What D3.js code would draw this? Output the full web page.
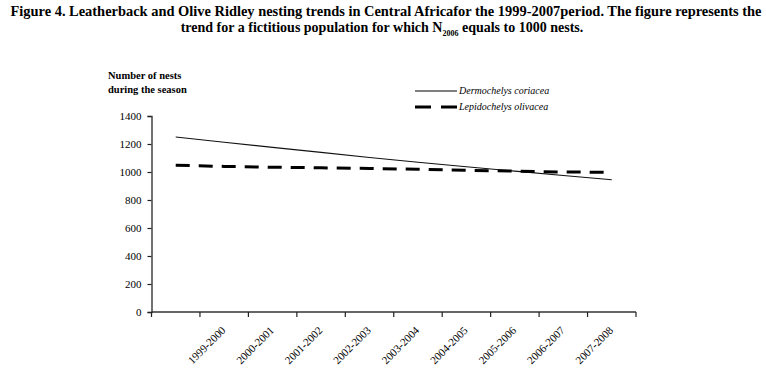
<!DOCTYPE html>
<html>
<head>
<meta charset="utf-8">
<script src="https://cdn.jsdelivr.net/npm/d3@7"></script>
<style>
	body { margin: 0; background: #fff; }
	svg { display: block; }
	text { font-family: "Liberation Serif", "Times New Roman", serif; fill: #000; }
</style>
</head>
<body>
<svg id="chart" width="766" height="389"></svg>
<script>
// data
var seasons = ["", "1999-2000", "2000-2001", "2001-2002", "2002-2003", "2003-2004", "2004-2005", "2005-2006", "2006-2007", "2007-2008"];
var dermochelys = [1250, 1213, 1176, 1140, 1104, 1070, 1038, 1006, 975, 945];
var lepidochelys = [1048, 1040, 1034, 1030, 1025, 1020, 1012, 1006, 1000, 998];
var yTicks = [0, 200, 400, 600, 800, 1000, 1200, 1400];

const width = 766;
const height = 389;
const margin = {top: 116, bottom: 77, left: 151.5, right: 130};

var svg = d3.select("#chart");

// scales
var x = d3.scaleBand()
	.domain(seasons.map((d, i) => i))
	.range([margin.left, width - margin.right])
	.paddingInner(0)
	.paddingOuter(0);

var y = d3.scaleLinear()
	.domain([0, 1400])
	.range([height - margin.bottom, margin.top]);

var cx = i => x(i) + x.bandwidth() / 2;

// title
var title1 = svg.append("text")
	.attr("x", 386)
	.attr("y", 16)
	.attr("text-anchor", "middle")
	.style("font-weight", "bold")
	.style("font-size", "14px")
	.attr("textLength", 751)
	.attr("lengthAdjust", "spacingAndGlyphs")
	.text("Figure 4. Leatherback and Olive Ridley nesting trends in Central Africafor the 1999-2007period. The figure represents the");

var title2 = svg.append("text")
	.attr("x", 382)
	.attr("y", 32)
	.attr("text-anchor", "middle")
	.style("font-weight", "bold")
	.style("font-size", "14px");
title2.append("tspan").text("trend for a fictitious population for which N");
title2.append("tspan").attr("dy", 4).style("font-size", "8px").text("2006");
title2.append("tspan").attr("dy", -4).text(" equals to 1000 nests.");

// y axis label
var ylab = svg.append("text")
	.attr("x", 108)
	.style("font-weight", "bold")
	.style("font-size", "10.5px");
ylab.append("tspan").attr("x", 108).attr("y", 79).text("Number of nests");
ylab.append("tspan").attr("x", 108).attr("y", 93).text("during the season");

// y axis
var yAxis = d3.axisLeft(y).tickValues(yTicks).tickSize(4).tickPadding(6).tickFormat(d3.format("d"));
var gy = svg.append("g")
	.attr("transform", "translate(" + margin.left + ",0)")
	.call(yAxis);
gy.select(".domain").attr("stroke", "#444").attr("stroke-width", 1.5);
gy.selectAll(".tick line").attr("stroke", "#222").attr("stroke-width", 1.2);
gy.selectAll(".tick text").style("font-family", "Liberation Serif, serif").style("font-size", "11px").attr("fill", "#000");

// x axis
var gx = svg.append("g").attr("class", "x_axis");
gx.append("line")
	.attr("x1", x.range()[0])
	.attr("x2", x.range()[1])
	.attr("y1", y(0))
	.attr("y2", y(0))
	.attr("stroke", "#333")
	.attr("stroke-width", 1.5);
var tickPos = seasons.map((d, i) => x(i)).concat([x.range()[1]]);
gx.selectAll(".xtick")
	.data(tickPos)
	.enter()
	.append("line")
		.attr("class", "xtick")
		.attr("x1", d => d)
		.attr("x2", d => d)
		.attr("y1", y(0))
		.attr("y2", y(0) + 5)
		.attr("stroke", "#222")
		.attr("stroke-width", 1.2);
gx.selectAll(".xlabel")
	.data(seasons)
	.enter()
	.append("text")
		.attr("class", "xlabel")
		.attr("text-anchor", "end")
		.style("font-size", "11px")
		.attr("transform", (d, i) => "translate(" + (cx(i) + 2) + "," + (y(0) + 19) + ") rotate(-45)")
		.text(d => d);

// lines
var line = d3.line()
	.x((d, i) => cx(i))
	.y(d => y(d));

svg.append("path")
	.datum(dermochelys)
	.attr("fill", "none")
	.attr("stroke", "#111")
	.attr("stroke-width", 1.1)
	.attr("d", line);

svg.append("path")
	.datum(lepidochelys)
	.attr("fill", "none")
	.attr("stroke", "#000")
	.attr("stroke-width", 3)
	.attr("stroke-dasharray", "14,9")
	.attr("d", line);

// legend
var legend = svg.append("g").attr("transform", "translate(415,91)");
legend.append("line")
	.attr("x1", 0).attr("x2", 42).attr("y1", 0).attr("y2", 0)
	.attr("stroke", "#000").attr("stroke-width", 1.1);
legend.append("text")
	.attr("x", 44).attr("y", 3)
	.style("font-style", "italic")
	.style("font-size", "10px")
	.text("Dermochelys coriacea");
legend.append("line")
	.attr("x1", 0).attr("x2", 42).attr("y1", 16).attr("y2", 16)
	.attr("stroke", "#000").attr("stroke-width", 3)
	.attr("stroke-dasharray", "16,10");
legend.append("text")
	.attr("x", 44).attr("y", 19)
	.style("font-style", "italic")
	.style("font-size", "10px")
	.text("Lepidochelys olivacea");
</script>
</body>
</html>
